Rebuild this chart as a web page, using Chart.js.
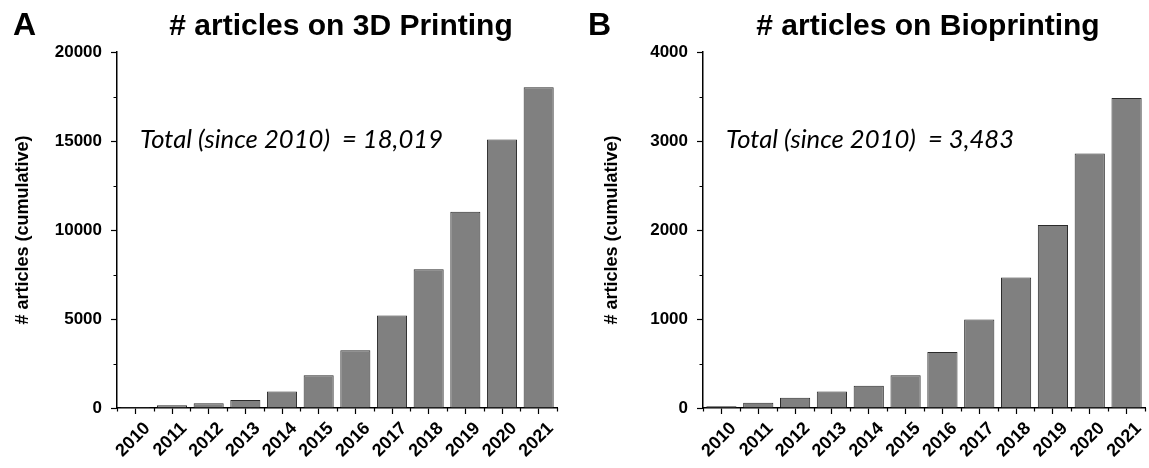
<!DOCTYPE html>
<html>
<head>
<meta charset="utf-8">
<script src="https://cdn.jsdelivr.net/npm/chart.js@4.4.1/dist/chart.umd.min.js"></script>
<style>
    html, body { margin: 0; padding: 0; background: #fff; }
    .panel { position: absolute; top: 0; height: 468px; }
    #panelA { left: 0; width: 575px; }
    #panelB { left: 575px; width: 574px; }
</style>
</head>
<body>
<div class="panel" id="panelA"><canvas id="chartA" width="575" height="468"></canvas></div>
<div class="panel" id="panelB"><canvas id="chartB" width="574" height="468"></canvas></div>
<script>
// Datos
const years = ["2010", "2011", "2012", "2013", "2014", "2015", "2016", "2017", "2018", "2019", "2020", "2021"];
const printing3d = [50, 150, 260, 450, 920, 1840, 3240, 5190, 7800, 11020, 15090, 18019];
const bioprinting = [19, 60, 116, 184, 251, 368, 630, 994, 1467, 2056, 2859, 3483];

const yMax3d = 20000;
const yStep3d = 5000;
const yMaxBio = 4000;
const yStepBio = 1000;

const totalText3d = "Total (since 2010)  = 18,019";
const totalTextBio = "Total (since 2010)  = 3,483";

const FONT = "'Liberation Sans', Arial, sans-serif";

// ticks menores y textos del panel
const panelDecor = {
    id: "panelDecor",
    afterDraw(chart, args, opts) {
        const { ctx, chartArea, scales } = chart;
        const x = scales.x;
        const y = scales.y;
        ctx.save();

        // ticks menores eje y
        ctx.strokeStyle = "#000";
        ctx.lineWidth = 1.2;
        ctx.beginPath();
        for (let v = opts.step / 2; v < opts.max; v += opts.step) {
            const py = Math.round(y.getPixelForValue(v)) + 0.5;
            ctx.moveTo(chartArea.left - 3.5, py);
            ctx.lineTo(chartArea.left, py);
        }
        // ticks menores eje x (entre categorias)
        const gap = x.getPixelForValue(1) - x.getPixelForValue(0);
        for (let i = 0; i <= years.length; i++) {
            const px = Math.round(x.getPixelForValue(i) - gap / 2) + 0.5;
            ctx.moveTo(px, chartArea.bottom);
            ctx.lineTo(px, chartArea.bottom + 3.5);
        }
        ctx.stroke();

        // letra del panel
        ctx.fillStyle = "#000";
        ctx.textBaseline = "alphabetic";
        ctx.textAlign = "left";
        ctx.font = "bold 32px " + FONT;
        ctx.fillText(opts.letter, 13, 35);

        // titulo
        ctx.textAlign = "center";
        ctx.font = "bold 30px " + FONT;
        ctx.fillText(opts.title, (chartArea.left + chartArea.right) / 2 + 4, 35);

        // total
        ctx.textAlign = "left";
        ctx.font = "italic 26px Lato, 'Liberation Sans', sans-serif";
        ctx.fillText(opts.total, chartArea.left + 23, y.getPixelForValue(opts.max * 0.73), opts.totalWidth);

        ctx.restore();
    },
};

function crearGrafico(canvasId, values, cfg) {
    return new Chart(document.getElementById(canvasId), {
        type: "bar",
        data: {
            labels: years,
            datasets: [
                {
                    data: values,
                    backgroundColor: "#808080",
                    borderColor: "#2b2b2b",
                    borderWidth: 1,
                    categoryPercentage: 1,
                    barPercentage: 0.82,
                },
            ],
        },
        options: {
            responsive: false,
            animation: false,
            events: [],
            layout: {
                padding: { top: 52, right: cfg.padRight, bottom: 0, left: 0 },
            },
            plugins: {
                legend: { display: false },
                title: { display: false },
                tooltip: { enabled: false },
                panelDecor: {
                    letter: cfg.letter,
                    title: cfg.title,
                    total: cfg.total,
                    totalWidth: cfg.totalWidth,
                    max: cfg.max,
                    step: cfg.step,
                },
            },
            scales: {
                x: {
                    offset: true,
                    border: { display: true, color: "#000", width: 1.5 },
                    grid: {
                        offset: false,
                        drawOnChartArea: false,
                        tickLength: 6,
                        tickColor: "#000",
                        tickWidth: 1.2,
                    },
                    ticks: {
                        color: "#000",
                        font: { family: FONT, size: 18, weight: "bold" },
                        minRotation: 45,
                        maxRotation: 45,
                        padding: 4,
                        labelOffset: 12,
                        autoSkip: false,
                    },
                    afterFit: (scale) => {
                        scale.height = 60;
                    },
                },
                y: {
                    min: 0,
                    max: cfg.max,
                    border: { display: true, color: "#000", width: 1.5 },
                    grid: {
                        drawOnChartArea: false,
                        tickLength: 6,
                        tickColor: "#000",
                        tickWidth: 1.2,
                    },
                    ticks: {
                        stepSize: cfg.step,
                        color: "#000",
                        padding: 9,
                        font: { family: FONT, size: 17, weight: "bold" },
                        callback: (value) => String(value),
                    },
                    title: {
                        display: true,
                        text: "# articles (cumulative)",
                        color: "#000",
                        font: { family: FONT, size: 18, weight: "bold" },
                        padding: { top: cfg.titlePad, bottom: 0 },
                    },
                    afterFit: (scale) => {
                        scale.width = cfg.yWidth;
                    },
                },
            },
        },
        plugins: [panelDecor],
    });
}

crearGrafico("chartA", printing3d, {
    letter: "A",
    title: "# articles on 3D Printing",
    total: totalText3d,
    totalWidth: 303,
    max: yMax3d,
    step: yStep3d,
    yWidth: 117,
    padRight: 18,
    titlePad: 12,
});

crearGrafico("chartB", bioprinting, {
    letter: "B",
    title: "# articles on Bioprinting",
    total: totalTextBio,
    totalWidth: 288,
    max: yMaxBio,
    step: yStepBio,
    yWidth: 128,
    padRight: 4,
    titlePad: 26,
});
</script>
</body>
</html>
